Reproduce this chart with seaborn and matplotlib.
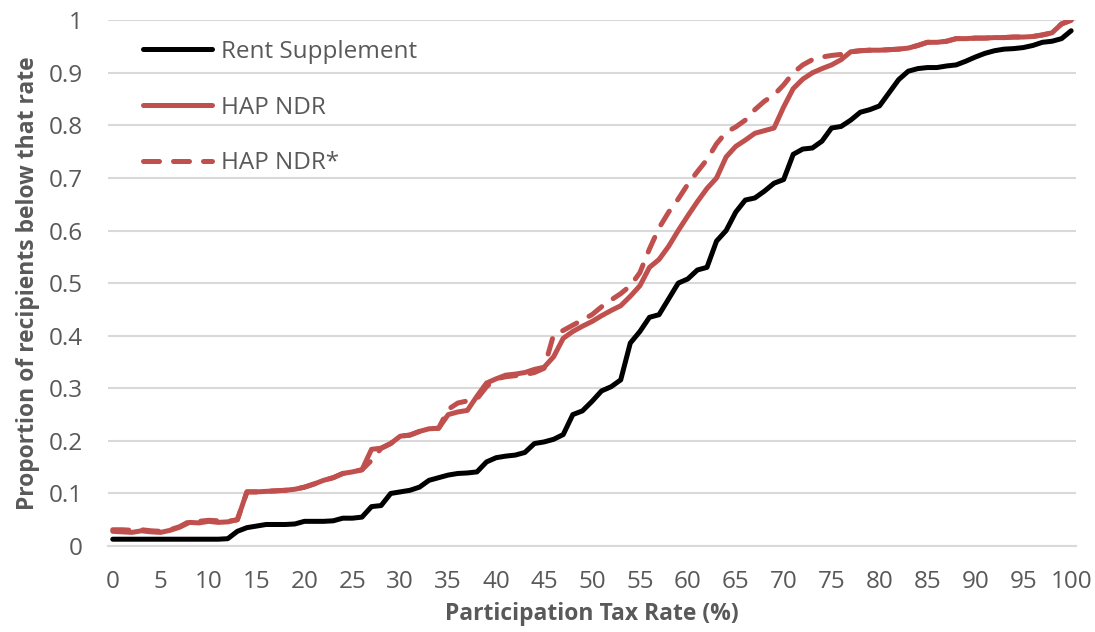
import matplotlib
matplotlib.use("Agg")
import matplotlib.pyplot as plt
import seaborn as sns
import pandas as pd

rates = list(range(0, 101))

rent_supplement = [
    0.013, 0.013, 0.013, 0.013, 0.013, 0.013, 0.013, 0.013, 0.013, 0.013,
    0.013, 0.013, 0.014, 0.028, 0.035, 0.038, 0.041, 0.041, 0.041, 0.042,
    0.047, 0.047, 0.047, 0.048, 0.053, 0.053, 0.055, 0.075, 0.077, 0.100,
    0.103, 0.106, 0.112, 0.125, 0.130, 0.135, 0.138, 0.139, 0.141, 0.160,
    0.168, 0.171, 0.173, 0.178, 0.195, 0.198, 0.203, 0.212, 0.250, 0.257,
    0.275, 0.295, 0.303, 0.316, 0.386, 0.408, 0.435, 0.440, 0.470, 0.500,
    0.508, 0.525, 0.530, 0.580, 0.600, 0.635, 0.658, 0.662, 0.675, 0.690,
    0.697, 0.745, 0.755, 0.757, 0.770, 0.795, 0.798, 0.810, 0.825, 0.830,
    0.837, 0.862, 0.887, 0.903, 0.908, 0.910, 0.910, 0.913, 0.915, 0.922,
    0.930, 0.937, 0.942, 0.945, 0.946, 0.948, 0.952, 0.958, 0.960, 0.965,
    0.980,
]

hap_ndr = [
    0.028, 0.027, 0.026, 0.029, 0.027, 0.026, 0.030, 0.036, 0.045, 0.044,
    0.047, 0.045, 0.046, 0.050, 0.103, 0.103, 0.104, 0.105, 0.106, 0.108,
    0.112, 0.118, 0.125, 0.130, 0.138, 0.141, 0.145, 0.184, 0.186, 0.195,
    0.209, 0.211, 0.218, 0.223, 0.224, 0.250, 0.255, 0.258, 0.285, 0.310,
    0.318, 0.325, 0.327, 0.330, 0.336, 0.340, 0.360, 0.395, 0.408, 0.418,
    0.427, 0.438, 0.448, 0.457, 0.475, 0.495, 0.530, 0.545, 0.570, 0.600,
    0.628, 0.655, 0.680, 0.700, 0.740, 0.760, 0.772, 0.785, 0.790, 0.795,
    0.835, 0.870, 0.888, 0.900, 0.908, 0.915, 0.925, 0.940, 0.942, 0.943,
    0.943, 0.944, 0.945, 0.947, 0.952, 0.958, 0.958, 0.960, 0.965, 0.965,
    0.966, 0.966, 0.967, 0.967, 0.968, 0.968, 0.969, 0.972, 0.976, 0.993,
    1.000,
]

hap_ndr_star = [
    0.031, 0.031, 0.030, 0.031, 0.029, 0.028, 0.031, 0.037, 0.047, 0.047,
    0.049, 0.048, 0.047, 0.050, 0.103, 0.103, 0.104, 0.105, 0.106, 0.108,
    0.112, 0.118, 0.125, 0.130, 0.138, 0.141, 0.145, 0.163, 0.186, 0.195,
    0.209, 0.211, 0.218, 0.223, 0.224, 0.260, 0.272, 0.276, 0.280, 0.303,
    0.318, 0.322, 0.324, 0.326, 0.330, 0.338, 0.402, 0.410, 0.420, 0.430,
    0.440, 0.455, 0.468, 0.480, 0.495, 0.520, 0.565, 0.605, 0.635, 0.660,
    0.688, 0.712, 0.735, 0.765, 0.787, 0.797, 0.810, 0.830, 0.846, 0.858,
    0.877, 0.900, 0.915, 0.925, 0.930, 0.933, 0.935, 0.940, 0.942, 0.943,
    0.943, 0.944, 0.945, 0.947, 0.952, 0.958, 0.958, 0.960, 0.965, 0.965,
    0.966, 0.966, 0.967, 0.967, 0.968, 0.968, 0.969, 0.972, 0.976, 0.993,
    1.000,
]

series_names = ["Rent Supplement", "HAP NDR", "HAP NDR*"]
x_ticks = list(range(0, 101, 5))
y_ticks = [0, 0.1, 0.2, 0.3, 0.4, 0.5, 0.6, 0.7, 0.8, 0.9, 1]
y_tick_labels = ["0", "0.1", "0.2", "0.3", "0.4", "0.5", "0.6", "0.7", "0.8", "0.9", "1"]

sns.set_theme(style="white")
plt.rcParams["font.family"] = ["Open Sans", "DejaVu Sans"]

TEXT = "#595959"
RED = "#C0504D"

fig = plt.figure(figsize=(10.95, 6.32), dpi=100)
ax = fig.add_axes([0.0986, 0.136, 0.884, 0.832])

df = pd.DataFrame({"rate": rates, "Rent Supplement": rent_supplement,
                   "HAP NDR": hap_ndr, "HAP NDR*": hap_ndr_star})

sns.lineplot(data=df, x="rate", y="Rent Supplement", ax=ax, color="black",
             linewidth=3.6, label=series_names[0], solid_capstyle="round",
             solid_joinstyle="round")
sns.lineplot(data=df, x="rate", y="HAP NDR", ax=ax, color=RED,
             linewidth=3.6, label=series_names[1], solid_capstyle="round",
             solid_joinstyle="round")
sns.lineplot(data=df, x="rate", y="HAP NDR*", ax=ax, color=RED,
             linewidth=3.6, label=series_names[2], dashes=False)
dline = ax.get_lines()[-1]
dline.set_dashes((3.2, 2.8))
dline.set_dash_capstyle("round")

ax.set_xlim(-0.5, 100.5)
ax.set_ylim(0, 1)
ax.set_xticks(x_ticks)
ax.set_xticklabels([str(t) for t in x_ticks])
ax.set_yticks(y_ticks)
ax.set_yticklabels(y_tick_labels)
ax.tick_params(axis="both", length=0, labelsize=17.5, colors=TEXT)
ax.tick_params(axis="x", pad=17)
ax.tick_params(axis="y", pad=18)

ax.grid(axis="y", color="#D9D9D9", linewidth=1.5)
ax.grid(axis="x", visible=False)
ax.set_axisbelow(True)
for s in ["top", "right", "left"]:
    ax.spines[s].set_visible(False)
ax.spines["bottom"].set_color("#D9D9D9")
ax.spines["bottom"].set_linewidth(1.5)

ax.set_xlabel("Participation Tax Rate (%)", fontsize=16.5, fontweight="bold",
              color=TEXT, labelpad=6)
ax.set_ylabel("Proportion of recipients below that rate", fontsize=16.5,
              fontweight="bold", color=TEXT, labelpad=6)

leg = ax.legend(loc="upper left", bbox_to_anchor=(0.026, 0.981), frameon=False,
                fontsize=17.5, handlelength=2.85, labelspacing=1.3,
                handletextpad=0.35, borderaxespad=0)
for t in leg.get_texts():
    t.set_color(TEXT)
handles = leg.legend_handles if hasattr(leg, "legend_handles") else leg.legendHandles
for h in handles:
    h.set_linewidth(3.6)
    h.set_solid_capstyle("round")
handles[2].set_dashes((3.2, 2.8))
handles[2].set_dash_capstyle("round")

fig.savefig("out.png", dpi=100)
